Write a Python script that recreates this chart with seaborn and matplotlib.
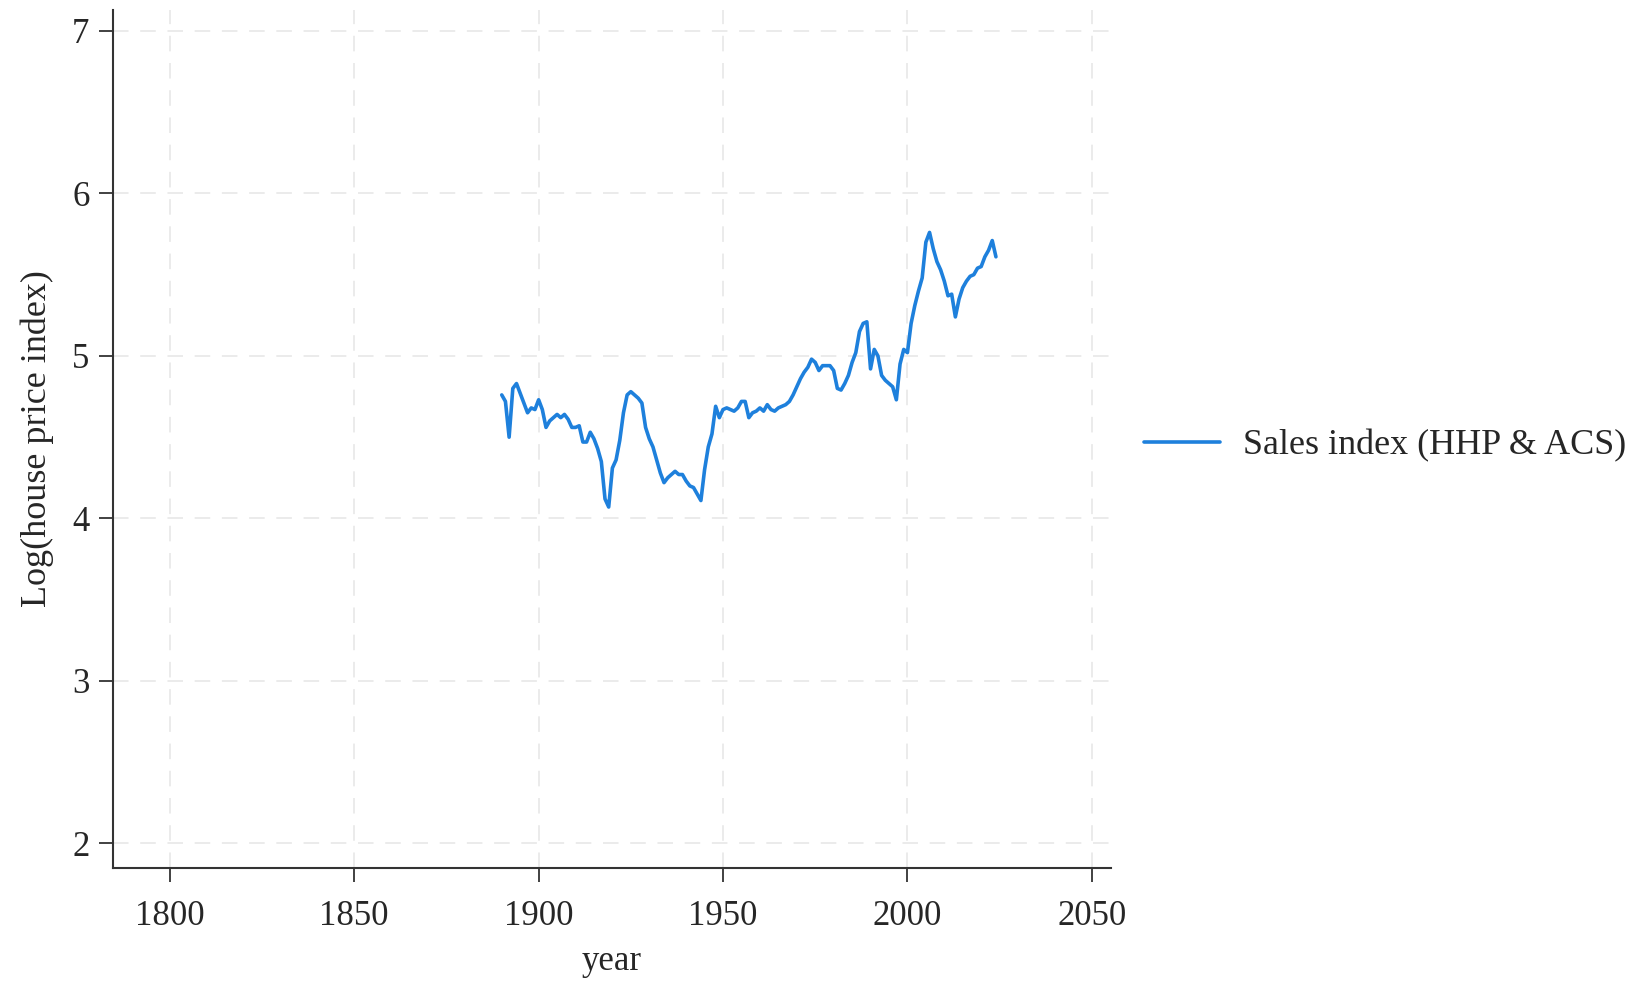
import matplotlib
matplotlib.use("Agg")
import matplotlib.pyplot as plt
import seaborn as sns
import pandas as pd
import numpy as np

years = list(range(1890, 2025))
log_hpi = [
    4.76, 4.72, 4.50, 4.80, 4.83, 4.77, 4.71, 4.65, 4.68, 4.67,   # 1890-1899
    4.73, 4.67, 4.56, 4.60, 4.62, 4.64, 4.62, 4.64, 4.61, 4.56,   # 1900-1909
    4.56, 4.57, 4.47, 4.47, 4.53, 4.49, 4.43, 4.35, 4.12, 4.07,   # 1910-1919
    4.31, 4.36, 4.48, 4.65, 4.76, 4.78, 4.76, 4.74, 4.71, 4.56,   # 1920-1929
    4.49, 4.44, 4.36, 4.28, 4.22, 4.25, 4.27, 4.29, 4.27, 4.27,   # 1930-1939
    4.23, 4.20, 4.19, 4.15, 4.11, 4.30, 4.44, 4.52, 4.69, 4.62,   # 1940-1949
    4.67, 4.68, 4.67, 4.66, 4.68, 4.72, 4.72, 4.62, 4.65, 4.66,   # 1950-1959
    4.68, 4.66, 4.70, 4.67, 4.66, 4.68, 4.69, 4.70, 4.72, 4.76,   # 1960-1969
    4.81, 4.86, 4.90, 4.93, 4.98, 4.96, 4.91, 4.94, 4.94, 4.94,   # 1970-1979
    4.91, 4.80, 4.79, 4.83, 4.88, 4.96, 5.02, 5.15, 5.20, 5.21,   # 1980-1989
    4.92, 5.04, 5.00, 4.88, 4.85, 4.83, 4.81, 4.73, 4.95, 5.04,   # 1990-1999
    5.02, 5.20, 5.31, 5.40, 5.48, 5.70, 5.76, 5.66, 5.58, 5.53,   # 2000-2009
    5.46, 5.37, 5.38, 5.24, 5.35, 5.42, 5.46, 5.49, 5.50, 5.54,   # 2010-2019
    5.55, 5.61, 5.65, 5.71, 5.61,                                 # 2020-2024
]
series_label = "Sales index (HHP & ACS)"
x_ticks = [1800, 1850, 1900, 1950, 2000, 2050]
y_ticks = [2, 3, 4, 5, 6, 7]

df = pd.DataFrame({"year": years, "value": log_hpi, "series": series_label})

sns.set_theme(style="white")
plt.rcParams["font.family"] = ["Liberation Serif", "DejaVu Serif"]

fig = plt.figure(figsize=(16.43, 9.81), dpi=100)
ax = fig.add_axes([0.0688, 0.1156, 0.6074, 0.8744])

sns.lineplot(data=df, x="year", y="value", hue="series",
             palette=["#1e80dc"], linewidth=2.6, ax=ax)

ax.set_xlim(1784.6, 2055.2)
ax.set_ylim(1.851, 7.13)
ax.set_xticks(x_ticks)
ax.set_yticks(y_ticks)
ax.tick_params(axis="x", which="major", labelsize=25, length=10, width=1.3,
               color="#333333", direction="out", bottom=True, pad=13)
ax.tick_params(axis="y", which="major", labelsize=25, length=10, width=1.3,
               color="#333333", direction="out", left=True, pad=7)

ax.grid(True, linestyle=(0, (8, 6)), color="#ebebeb", linewidth=1.4)
for side in ["top", "right"]:
    ax.spines[side].set_visible(False)
for side in ["left", "bottom"]:
    ax.spines[side].set_color("#333333")
    ax.spines[side].set_linewidth(1.5)

ax.set_xlabel("year", fontsize=25, labelpad=9)
ax.set_ylabel("Log(house price index)", fontsize=26, labelpad=13)

handles, labels = ax.get_legend_handles_labels()
ax.legend(handles, labels, loc="center left", bbox_to_anchor=(1.033, 0.492),
          frameon=False, fontsize=26, handlelength=2.1, handletextpad=0.64,
          borderpad=0, borderaxespad=0)

fig.savefig("out.png", dpi=100, facecolor="white")
